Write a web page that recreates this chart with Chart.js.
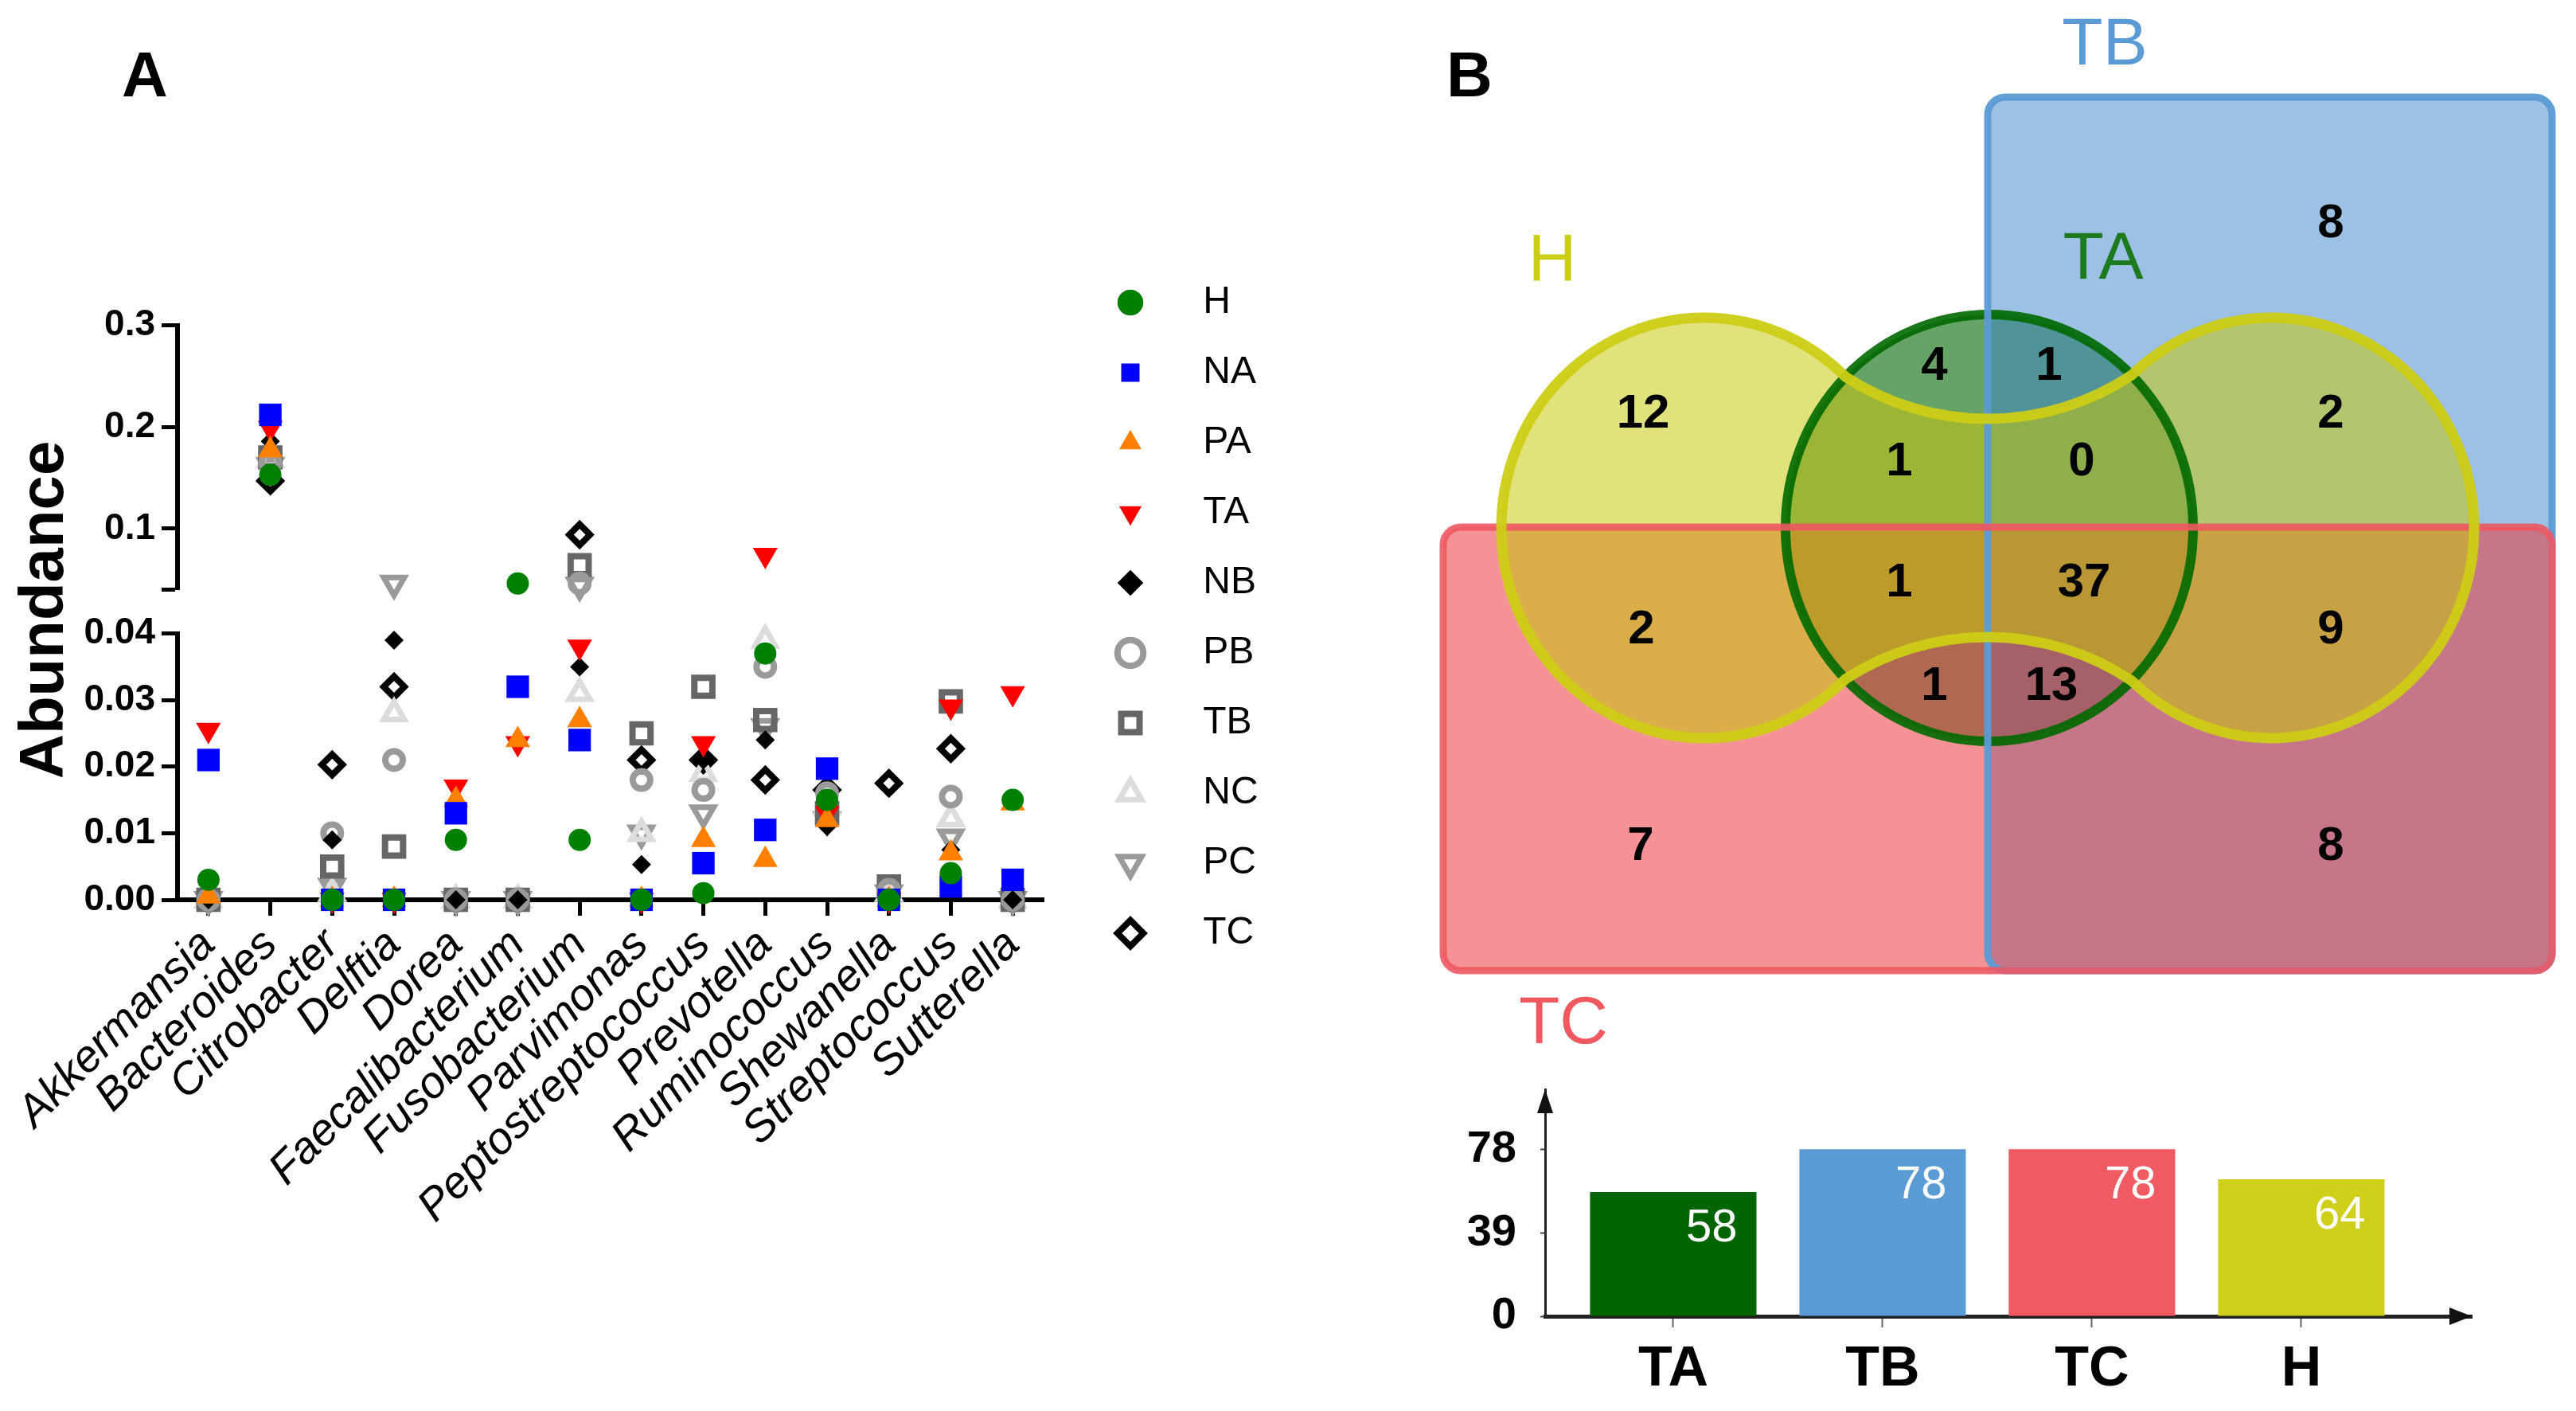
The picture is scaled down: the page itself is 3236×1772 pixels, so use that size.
<!DOCTYPE html>
<html>
<head>
<meta charset="utf-8">
<title>Abundance scatter and Venn diagram</title>
<script src="https://cdn.jsdelivr.net/npm/chart.js@4.4.1/dist/chart.umd.min.js"></script>
<style>
  html, body { margin:0; padding:0; background:#ffffff; }
  #page { position:relative; width:3236px; height:1772px; overflow:hidden; background:#fff; }
  canvas { position:absolute; }
  .txt { position:absolute; font-family:'Liberation Sans', Arial, sans-serif; line-height:1; color:#000; white-space:nowrap; }
</style>
</head>
<body>
<div id="page">
  <div class="txt" style="left:153px; top:54px; font-size:80px; font-weight:bold;">A</div>
  <div class="txt" style="left:1817px; top:54px; font-size:80px; font-weight:bold;">B</div>
  <div class="txt" style="left:-248px; top:727px; width:600px; height:78px; text-align:center; font-size:78px; font-weight:bold; transform:rotate(-90deg); transform-origin:50% 50%;">Abundance</div>
  <canvas id="chartUpper" width="1380" height="480" style="left:0px; top:300px; width:1380px; height:480px;"></canvas>
  <canvas id="chartLower" width="1380" height="1012" style="left:0px; top:760px; width:1380px; height:1012px;"></canvas>
  <canvas id="chartLegend" width="500" height="960" style="left:1356px; top:316px; width:500px; height:960px;"></canvas>
  <canvas id="chartVenn" width="1456" height="1340" style="left:1780px; top:0px; width:1456px; height:1340px;"></canvas>
  <canvas id="chartBars" width="1456" height="482" style="left:1780px; top:1290px; width:1456px; height:482px;"></canvas>
</div>
<script>
// ---------------- DATA (panel A) ----------------
const categories = ['Akkermansia','Bacteroides','Citrobacter','Delftia','Dorea','Faecalibacterium','Fusobacterium','Parvimonas','Peptostreptococcus','Prevotella','Ruminococcus','Shewanella','Streptococcus','Sutterella'];
const seriesNames = ['H','NA','PA','TA','NB','PB','TB','NC','PC','TC'];
const valuesH  = [0.003, 0.153, 0,      0,     0.009, 0.046,  0.009, 0,      0.001,  0.037,  0.015,  0,      0.004,  0.015];
const valuesNA = [0.021, 0.212, 0,      0,     0.013, 0.032,  0.024, 0,      0.0055, 0.0105, 0.0197, 0,      0.002,  0.003];
const valuesPA = [0.0005,0.177, 0,      0,     0.015, 0.024,  0.027, 0,      0.009,  0.006,  0.012,  0,      0.007,  0.0145];
const valuesTA = [0.0255,0.199, 0,      0,     0.017, 0.0235, 0.038, 0,      0.0235, 0.074,  0.013,  0,      0.029,  0.031];
const valuesNB = [0,     0.186, 0.009,  0.039, 0,     0,      0.035, 0.0053, 0.021,  0.024,  0.011,  0,      0.0075, 0];
const valuesPB = [0,     0.165, 0.010,  0.021, 0,     0,      0.046, 0.018,  0.0165, 0.035,  0.016,  0.0015, 0.0155, 0];
const valuesTB = [0,     0.170, 0.005,  0.008, 0,     0,      0.064, 0.025,  0.032,  0.027,  0.013,  0.002,  0.0298, 0];
const valuesNC = [0,     0.168, 0.001,  0.028, 0,     0,      0.031, 0.010,  0.019,  0.039,  0.014,  0.001,  0.0122, 0];
const valuesPC = [0,     0.162, 0.002,  0.046, 0,     0,      0.044, 0.010,  0.013,  0.026,  0.012,  0.001,  0.0094, 0];
const valuesTC = [0,     0.147, 0.0203, 0.032, 0,     0,      0.094, 0.021,  0.021,  0.018,  0.0165, 0.0175, 0.0227, 0];
const seriesValues = [valuesH, valuesNA, valuesPA, valuesTA, valuesNB, valuesPB, valuesTB, valuesNC, valuesPC, valuesTC];

const axisBreak = 0.04;
const upperTicks = [0.04, 0.1, 0.2, 0.3];
const upperTickLabels = ['', '0.1', '0.2', '0.3'];
const lowerTicks = [0, 0.01, 0.02, 0.03, 0.04];
const lowerTickLabels = ['0.00', '0.01', '0.02', '0.03', '0.04'];

// ---------------- DATA (panel B) ----------------
const vennRegions = ['TB','H','TA','TA&TB','H&TB','H&TA','H&TA&TB','H&TC','H&TA&TC','H&TA&TB&TC','H&TB&TC','TA&TC','TA&TB&TC','TC','TB&TC'];
const vennCounts  = [8,   12,  4,   1,      2,     1,     0,        2,     1,        37,          9,        1,      13,        7,   8];
const setNames = ['TA', 'TB', 'TC', 'H'];
const setSizes = [58, 78, 78, 64];
const barTicks = [0, 39, 78];

// ---------------- STYLES / LAYOUT ----------------
const FONT = "'Liberation Sans', Arial, sans-serif";
const NARROW = "'Liberation Sans Narrow', 'Arial Narrow', 'Liberation Sans', Arial, sans-serif";
Chart.defaults.font.family = FONT;
Chart.defaults.color = '#000';

const seriesStyle = {
  H:  {shape:'circle',   rot:0,   r:14, fill:'#008000',        stroke:'#008000', bw:0},
  NA: {shape:'rect',     rot:0,   r:20, fill:'#0000ff',        stroke:'#0000ff', bw:0},
  PA: {shape:'triangle', rot:0,   r:18, fill:'#ff8000',        stroke:'#ff8000', bw:0},
  TA: {shape:'triangle', rot:180, r:18, fill:'#ff0000',        stroke:'#ff0000', bw:0},
  NB: {shape:'rectRot',  rot:0,   r:12, fill:'#000000',        stroke:'#000000', bw:0},
  PB: {shape:'circle',   rot:0,   r:11, fill:'rgba(0,0,0,0)',  stroke:'#9a9a9a', bw:8},
  TB: {shape:'rect',     rot:0,   r:16, fill:'rgba(0,0,0,0)',  stroke:'#666666', bw:8},
  NC: {shape:'triangle', rot:0,   r:15, fill:'rgba(0,0,0,0)',  stroke:'#dcdcdc', bw:7},
  PC: {shape:'triangle', rot:180, r:15, fill:'rgba(0,0,0,0)',  stroke:'#9a9a9a', bw:7},
  TC: {shape:'rectRot',  rot:0,   r:13, fill:'rgba(0,0,0,0)',  stroke:'#000000', bw:8}
};

function buildDatasets(keep) {
  return seriesNames.map((name, i) => {
    const st = seriesStyle[name];
    return {
      label: name,
      data: seriesValues[i].map(v => keep(v) ? v : null),
      showLine: false,
      pointStyle: st.shape,
      pointRotation: st.rot,
      pointRadius: st.r,
      pointHoverRadius: st.r,
      pointBackgroundColor: st.fill,
      pointBorderColor: st.stroke,
      pointBorderWidth: st.bw,
      pointHoverBorderWidth: st.bw,
      backgroundColor: st.fill,
      borderColor: st.stroke,
      borderWidth: st.bw,
      clip: false
    };
  });
}

const yAxisBase = (min, max, ticks, labels) => ({
  type: 'linear', min, max, bounds: 'data',
  afterFit: s => { s.width = 223; },
  afterBuildTicks: s => { s.ticks = ticks.map(v => ({value: v})); },
  ticks: { callback: (v, i) => labels[i], font: {size: 46, weight: 'bold', family: FONT}, color: '#000', padding: 8 },
  grid: { drawOnChartArea: false, drawTicks: true, tickLength: 20, tickWidth: 5, tickColor: '#000' },
  border: { display: true, color: '#000', width: 6 }
});

// ---- Panel A upper segment ----
new Chart(document.getElementById('chartUpper'), {
  type: 'line',
  data: { labels: categories, datasets: buildDatasets(v => v >= axisBreak) },
  options: {
    responsive: false, animation: false, events: [],
    layout: { padding: { top: 108.7, bottom: 39.6, left: 0, right: 69 } },
    plugins: { legend: { display: false }, tooltip: { enabled: false } },
    scales: {
      x: { type: 'category', offset: true, display: false },
      y: yAxisBase(0.04, 0.3, upperTicks, upperTickLabels)
    }
  }
});

// ---- Panel A lower segment ----
new Chart(document.getElementById('chartLower'), {
  type: 'line',
  data: { labels: categories, datasets: buildDatasets(v => v < axisBreak) },
  options: {
    responsive: false, animation: false, events: [],
    layout: { padding: { top: 35, bottom: 0, left: 0, right: 69 } },
    plugins: { legend: { display: false }, tooltip: { enabled: false } },
    scales: {
      x: {
        type: 'category', offset: true,
        afterFit: s => { s.height = 642; },
        ticks: { autoSkip: false, minRotation: 45, maxRotation: 45, font: {size: 56, style: 'italic', family: FONT}, color: '#000', padding: 4 },
        grid: { drawOnChartArea: false, drawTicks: true, tickLength: 20, tickWidth: 5, tickColor: '#000' },
        border: { display: true, color: '#000', width: 6 }
      },
      y: yAxisBase(0, 0.04, lowerTicks, lowerTickLabels)
    }
  }
});

// ---- Panel A legend ----
const LEGEND_GAP = '\u2002\u2009\u2009';
new Chart(document.getElementById('chartLegend'), {
  type: 'line',
  data: { labels: [], datasets: buildDatasets(() => false).map(d => Object.assign(d, {data: []})) },
  options: {
    responsive: false, animation: false, events: [],
    layout: { padding: 0 },
    scales: { x: { display: false }, y: { display: false } },
    plugins: {
      tooltip: { enabled: false },
      legend: {
        position: 'left', align: 'start',
        labels: {
          usePointStyle: true, boxHeight: 23, boxWidth: 48, padding: 40,
          font: { size: 48, family: FONT }, color: '#000',
          generateLabels(chart) {
            const items = Chart.defaults.plugins.legend.labels.generateLabels(chart);
            items.forEach(it => { it.text = LEGEND_GAP + it.text; });
            return items;
          }
        }
      }
    }
  }
});

// ---- Panel B: Venn diagram (layout in page pixels) ----
const vennLayout = {
  TB: { x0: 2497, x1: 3206, y0: 122, y1: 1219, radius: 22 },
  TC: { x0: 1813, x1: 3206, y0: 662, y1: 1219, radius: 22 },
  TA: { cx: 2499, cy: 663, rx: 256, ry: 268 },
  HL: { cx: 2141, cy: 663, rx: 255, ry: 264 },
  HR: { cx: 2853, cy: 663, rx: 255, ry: 264 },
  smileY: 526, frownY: 800
};
const vennPos = {
  'TB': [2928, 279], 'H': [2064, 518], 'TA': [2430, 458], 'TA&TB': [2574, 458],
  'H&TB': [2928, 518], 'H&TA': [2386, 578], 'H&TA&TB': [2615, 578], 'H&TC': [2062, 789],
  'H&TA&TC': [2386, 730], 'H&TA&TB&TC': [2618, 730], 'H&TB&TC': [2928, 789],
  'TA&TC': [2430, 860], 'TA&TB&TC': [2577, 860], 'TC': [2061, 1061], 'TB&TC': [2928, 1061]
};
const vennSetLabelPos = { H: [1950, 330], TA: [2642, 327], TB: [2644, 58], TC: [1964, 1287] };
const vennSetColors = { H: 'rgb(205,205,22)', TA: 'rgb(30,122,30)', TB: 'rgb(91,155,213)', TC: 'rgb(240,88,96)' };
const vennStyle = {
  TA: { fill: 'rgba(0,102,0,0.6)',    stroke: 'rgba(0,105,0,0.9)',     width: 12 },
  TB: { fill: 'rgba(57,131,201,0.5)', stroke: 'rgba(91,155,213,0.95)', width: 9 },
  TC: { fill: 'rgba(235,57,64,0.55)', stroke: 'rgba(238,88,98,0.9)',   width: 9 },
  H:  { fill: 'rgba(200,200,8,0.53)', stroke: 'rgba(205,205,22,0.95)', width: 13 }
};

function circ3(p1, p2, p3) {
  const [ax, ay] = p1, [bx, by] = p2, [cx, cy] = p3;
  const d = 2 * (ax * (by - cy) + bx * (cy - ay) + cx * (ay - by));
  const a2 = ax*ax + ay*ay, b2 = bx*bx + by*by, c2 = cx*cx + cy*cy;
  const ux = (a2 * (by - cy) + b2 * (cy - ay) + c2 * (ay - by)) / d;
  const uy = (a2 * (cx - bx) + b2 * (ax - cx) + c2 * (bx - ax)) / d;
  return { x: ux, y: uy, r: Math.hypot(ax - ux, ay - uy) };
}
function junctionAngle(c, t, side) {
  let lo = 0, hi = Math.PI / 2;
  const f = phi => {
    const px = c.cx + side * c.rx * Math.cos(phi), py = c.cy - c.ry * Math.sin(phi);
    return ((px - t.cx) / t.rx) ** 2 + ((py - t.cy) / t.ry) ** 2 - 1;
  };
  for (let k = 0; k < 60; k++) { const m = (lo + hi) / 2; if (f(m) < 0) lo = m; else hi = m; }
  return (lo + hi) / 2;
}

const vennPlugin = {
  id: 'vennShapes',
  beforeDatasetsDraw(chart) {
    const { ctx, scales: { x, y } } = chart;
    const X = v => x.getPixelForValue(v), Y = v => y.getPixelForValue(v);
    const sx = d => X(x.min + d) - X(x.min), sy = d => Y(y.min + d) - Y(y.min);
    const toPx = e => ({ cx: X(e.cx), cy: Y(e.cy), rx: sx(e.rx), ry: sy(e.ry) });
    const L = vennLayout;
    const ta = toPx(L.TA), hl = toPx(L.HL), hr = toPx(L.HR);

    const rectPath = r => {
      const x0 = X(r.x0), x1 = X(r.x1), y0 = Y(r.y0), y1 = Y(r.y1), rr = sx(r.radius);
      ctx.beginPath();
      ctx.moveTo(x0 + rr, y0);
      ctx.arcTo(x1, y0, x1, y1, rr);
      ctx.arcTo(x1, y1, x0, y1, rr);
      ctx.arcTo(x0, y1, x0, y0, rr);
      ctx.arcTo(x0, y0, x1, y0, rr);
      ctx.closePath();
    };
    const ellPath = e => { ctx.beginPath(); ctx.ellipse(e.cx, e.cy, e.rx, e.ry, 0, 0, Math.PI * 2); ctx.closePath(); };
    const hPath = () => {
      const pL = junctionAngle(hl, ta, 1), pR = junctionAngle(hr, ta, -1);
      const Lup = [hl.cx + hl.rx * Math.cos(pL), hl.cy - hl.ry * Math.sin(pL)];
      const Llo = [hl.cx + hl.rx * Math.cos(pL), hl.cy + hl.ry * Math.sin(pL)];
      const Rup = [hr.cx - hr.rx * Math.cos(pR), hr.cy - hr.ry * Math.sin(pR)];
      const Rlo = [hr.cx - hr.rx * Math.cos(pR), hr.cy + hr.ry * Math.sin(pR)];
      const fr = circ3(Llo, [ta.cx, Y(L.frownY)], Rlo);
      const sm = circ3(Rup, [ta.cx, Y(L.smileY)], Lup);
      ctx.beginPath();
      ctx.ellipse(hl.cx, hl.cy, hl.rx, hl.ry, 0, -pL, pL, true);
      ctx.arc(fr.x, fr.y, fr.r, Math.atan2(Llo[1] - fr.y, Llo[0] - fr.x), Math.atan2(Rlo[1] - fr.y, Rlo[0] - fr.x), false);
      ctx.ellipse(hr.cx, hr.cy, hr.rx, hr.ry, 0, Math.PI - pR, pR - Math.PI, true);
      ctx.arc(sm.x, sm.y, sm.r, Math.atan2(Rup[1] - sm.y, Rup[0] - sm.x), Math.atan2(Lup[1] - sm.y, Lup[0] - sm.x), false);
      ctx.closePath();
    };
    const shapes = [
      ['TA', () => ellPath(ta)],
      ['TB', () => rectPath(L.TB)],
      ['TC', () => rectPath(L.TC)],
      ['H', hPath]
    ];
    ctx.save();
    shapes.forEach(([k, p]) => { p(); ctx.fillStyle = vennStyle[k].fill; ctx.fill(); });
    shapes.forEach(([k, p]) => { p(); ctx.strokeStyle = vennStyle[k].stroke; ctx.lineWidth = vennStyle[k].width; ctx.lineJoin = 'round'; ctx.stroke(); });
    ctx.font = '84px ' + NARROW;
    ctx.textAlign = 'center'; ctx.textBaseline = 'middle';
    Object.keys(vennSetLabelPos).forEach(k => {
      ctx.fillStyle = vennSetColors[k];
      ctx.fillText(k, X(vennSetLabelPos[k][0]), Y(vennSetLabelPos[k][1]));
    });
    ctx.restore();
  },
  afterDatasetsDraw(chart) {
    const { ctx } = chart;
    const meta = chart.getDatasetMeta(0);
    ctx.save();
    ctx.font = 'bold 60px ' + NARROW;
    ctx.fillStyle = '#000';
    ctx.textAlign = 'center'; ctx.textBaseline = 'middle';
    meta.data.forEach((pt, i) => { ctx.fillText(String(vennCounts[i]), pt.x, pt.y + 2); });
    ctx.restore();
  }
};

new Chart(document.getElementById('chartVenn'), {
  type: 'scatter',
  data: { datasets: [{ label: 'regions', data: vennRegions.map(k => ({ x: vennPos[k][0], y: vennPos[k][1] })), pointRadius: 0, pointHoverRadius: 0 }] },
  options: {
    responsive: false, animation: false, events: [],
    layout: { padding: 0 },
    plugins: { legend: { display: false }, tooltip: { enabled: false } },
    scales: {
      x: { type: 'linear', min: 1780, max: 3236, display: false, bounds: 'data' },
      y: { type: 'linear', min: 0, max: 1340, reverse: true, display: false, bounds: 'data' }
    }
  },
  plugins: [vennPlugin]
});

// ---- Panel B: bar chart of set sizes ----
const barColors = ['#006400', '#5b9bd5', '#f05a62', '#cfcf1a'];
const barPositions = setNames.map((_, i) => i + 1);
const barPlugin = {
  id: 'barDecor',
  afterDatasetsDraw(chart) {
    const { ctx } = chart;
    const meta = chart.getDatasetMeta(0);
    ctx.save();
    ctx.font = '58px ' + NARROW;
    ctx.fillStyle = '#ffffff';
    ctx.textAlign = 'right'; ctx.textBaseline = 'middle';
    meta.data.forEach((bar, i) => { ctx.fillText(String(setSizes[i]), bar.x + bar.width / 2 - 24, bar.y + 46); });
    ctx.restore();
  },
  afterDraw(chart) {
    const { ctx, chartArea: a } = chart;
    ctx.save();
    ctx.fillStyle = '#111';
    ctx.beginPath();
    ctx.moveTo(a.left, a.top); ctx.lineTo(a.left - 10, a.top + 30); ctx.lineTo(a.left + 10, a.top + 30); ctx.closePath(); ctx.fill();
    ctx.beginPath();
    ctx.moveTo(a.right, a.bottom); ctx.lineTo(a.right - 28, a.bottom - 11); ctx.lineTo(a.right - 28, a.bottom + 11); ctx.closePath(); ctx.fill();
    ctx.restore();
  }
};
new Chart(document.getElementById('chartBars'), {
  type: 'bar',
  data: { datasets: [{ label: 'size', data: setSizes.map((v, i) => ({ x: barPositions[i], y: v })), backgroundColor: barColors, borderWidth: 0, barPercentage: 0.795, categoryPercentage: 1 }] },
  options: {
    responsive: false, animation: false, events: [],
    layout: { padding: { top: 78, right: 131, left: 0, bottom: 0 } },
    plugins: { legend: { display: false }, tooltip: { enabled: false } },
    scales: {
      x: {
        type: 'linear', min: 0.388, max: 4.814, bounds: 'data', offset: false,
        afterFit: s => { s.height = 119; },
        afterBuildTicks: s => { s.ticks = barPositions.map(v => ({ value: v })); },
        ticks: { autoSkip: false, maxRotation: 0, minRotation: 0, callback: (v, i) => setNames[i], font: { size: 70, weight: 'bold', family: NARROW }, color: '#000', padding: 12 },
        grid: { offset: false, drawOnChartArea: false, drawTicks: true, tickLength: 14, tickWidth: 2, tickColor: '#666' },
        border: { display: true, color: '#222', width: 5 }
      },
      y: {
        type: 'linear', min: 0, max: 106, bounds: 'data',
        afterFit: s => { s.width = 161; },
        afterBuildTicks: s => { s.ticks = barTicks.map(v => ({ value: v })); },
        ticks: { callback: v => String(v), font: { size: 56, weight: 'bold', family: NARROW }, color: '#000', padding: 30 },
        grid: { drawOnChartArea: false, drawTicks: true, tickLength: 6, tickWidth: 2, tickColor: '#444' },
        border: { display: true, color: '#222', width: 3 }
      }
    }
  },
  plugins: [barPlugin]
});
</script>
</body>
</html>
